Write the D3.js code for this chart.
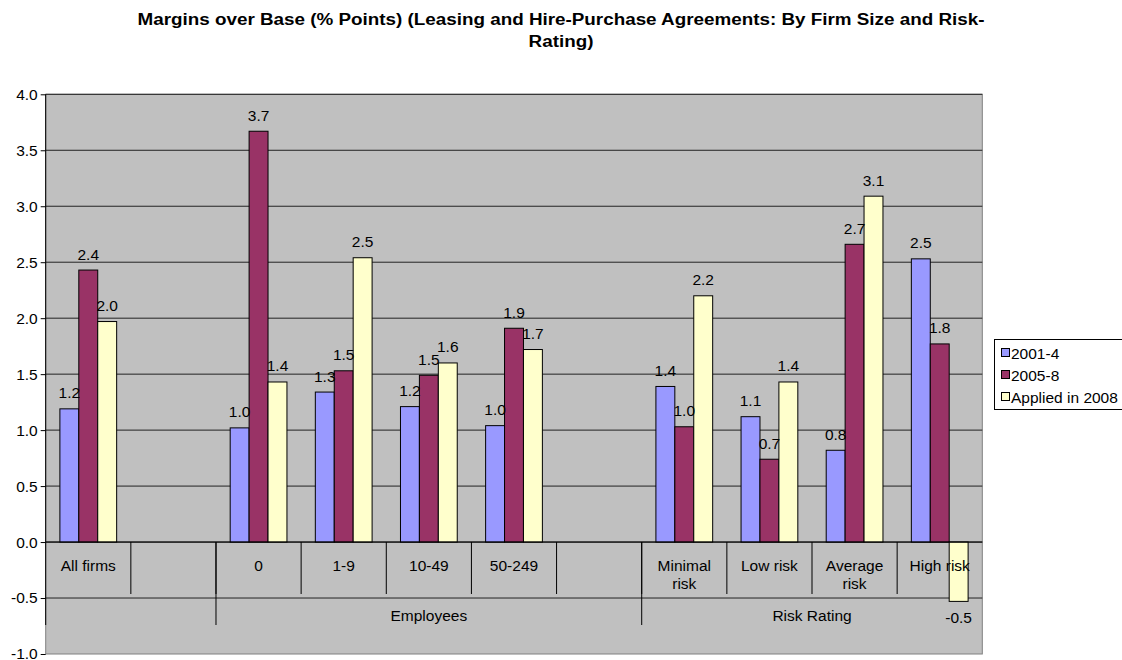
<!DOCTYPE html>
<html><head><meta charset="utf-8">
<script src="https://cdn.jsdelivr.net/npm/d3@7"></script>
<style>body{margin:0;background:#fff;} text{font-family:"Liberation Sans",Arial,sans-serif;}</style>
</head><body>
<svg id="c" width="1122" height="660"></svg>
<script>
const categories = ["All firms", "", "0", "1-9", "10-49", "50-249", "", "Minimal risk", "Low risk", "Average risk", "High risk"];
const categoryLines = [["All firms"], [], ["0"], ["1-9"], ["10-49"], ["50-249"], [], ["Minimal", "risk"], ["Low risk"], ["Average", "risk"], ["High risk"]];
const groups = [{name: "", from: 0, to: 1}, {name: "Employees", from: 2, to: 6}, {name: "Risk Rating", from: 7, to: 10}];
const seriesNames = ["2001-4", "2005-8", "Applied in 2008"];
const s2001 = [1.19, null, 1.02, 1.34, 1.21, 1.04, null, 1.39, 1.12, 0.82, 2.53];
const s2005 = [2.43, null, 3.67, 1.53, 1.49, 1.91, null, 1.03, 0.74, 2.66, 1.77];
const s2008 = [1.97, null, 1.43, 2.54, 1.60, 1.72, null, 2.20, 1.43, 3.09, -0.53];
const yTicks = [-1.0, -0.5, 0.0, 0.5, 1.0, 1.5, 2.0, 2.5, 3.0, 3.5, 4.0];
const colors = ["#9999FF", "#993366", "#FFFFCC"];
const title = ["Margins over Base (% Points) (Leasing and Hire-Purchase Agreements: By Firm Size and Risk-", "Rating)"];

const FS = "15.5px";
const fmt = v => d3.format(".1f")(v).replace("\u2212", "-");
const svg = d3.select("#c");
const L = 45.7, R = 982.3, T = 94.3, B = 654;
const x = d3.scaleBand().domain(d3.range(categories.length)).range([L, R]).padding(0);
const y = d3.scaleLinear().domain([-1, 4]).range([B, T]);
const bw = x.bandwidth() / 4.5;
const xs = d3.scaleBand().domain([0, 1, 2]).range([0, bw * 3]).padding(0);
const off = (x.bandwidth() - bw * 3) / 2;

// title
const tt = svg.append("g");
const t1 = tt.append("text").attr("x", 561).attr("y", 25).attr("text-anchor", "middle")
  .style("font-weight", "bold").style("font-size", "16px").text(title[0]);
const w1 = t1.node().getComputedTextLength();
const sc = 847 / w1;
t1.attr("textLength", 847).attr("lengthAdjust", "spacingAndGlyphs");
const t2 = tt.append("text").attr("x", 561).attr("y", 47).attr("text-anchor", "middle")
  .style("font-weight", "bold").style("font-size", "16px").text(title[1]);
const w2 = t2.node().getComputedTextLength();
t2.attr("textLength", w2 * sc).attr("lengthAdjust", "spacingAndGlyphs");

// plot background
svg.append("rect").attr("x", L).attr("y", T).attr("width", R - L).attr("height", B - T)
  .attr("fill", "#C0C0C0").attr("stroke", "#808080").attr("stroke-width", 1);

// gridlines
svg.append("g").selectAll("line").data(yTicks.filter(d => d !== -1)).join("line")
  .attr("x1", L).attr("x2", R).attr("y1", d => y(d)).attr("y2", d => y(d))
  .attr("stroke", "#222").attr("stroke-width", 1);

// y axis
const ya = svg.append("g").attr("transform", `translate(${L},0)`)
  .call(d3.axisLeft(y).tickValues(yTicks).tickFormat(fmt).tickSize(5).tickPadding(3));
ya.select(".domain").remove();
ya.selectAll(".tick line").attr("stroke", "#000");
ya.selectAll("text").style("font-size", FS).style("font-family", "'Liberation Sans',Arial,sans-serif").attr("fill", "#000");
svg.append("line").attr("x1", L).attr("x2", L).attr("y1", T).attr("y2", 625).attr("stroke", "#000");

// bars
const series = [s2001, s2005, s2008];
const barG = svg.append("g");
series.forEach((vals, si) => {
  const data = vals.map((v, i) => ({v, i})).filter(d => d.v !== null);
  barG.selectAll(null).data(data).join("rect")
    .attr("x", d => x(d.i) + off + xs(si))
    .attr("width", bw)
    .attr("y", d => y(Math.max(0, d.v)))
    .attr("height", d => Math.abs(y(d.v) - y(0)))
    .attr("fill", colors[si]).attr("stroke", "#000").attr("stroke-width", 1);
});

// zero axis line
svg.append("line").attr("x1", L).attr("x2", R).attr("y1", y(0)).attr("y2", y(0)).attr("stroke", "#000");

// category ticks
svg.append("g").selectAll("line").data(d3.range(1, categories.length)).join("line")
  .attr("x1", d => x(d)).attr("x2", d => x(d)).attr("y1", y(0)).attr("y2", 594)
  .attr("stroke", "#000");
// group ticks
svg.append("g").selectAll("line").data(groups.slice(1).map(g => g.from)).join("line")
  .attr("x1", d => x(d)).attr("x2", d => x(d)).attr("y1", y(0)).attr("y2", 625)
  .attr("stroke", "#000");

// category labels
const cl = svg.append("g");
categoryLines.forEach((lines, i) => {
  cl.append("text").attr("text-anchor", "middle").style("font-size", FS)
    .attr("x", x(i) + x.bandwidth() / 2).attr("y", 570.5)
    .selectAll("tspan").data(lines).join("tspan")
    .attr("x", x(i) + x.bandwidth() / 2).attr("dy", (d, k) => k ? 18 : 0).text(d => d);
});
// group labels
svg.append("g").selectAll("text").data(groups.filter(g => g.name)).join("text")
  .attr("text-anchor", "middle").style("font-size", FS)
  .attr("x", g => (x(g.from) + x(g.to) + x.bandwidth()) / 2).attr("y", 620.5)
  .text(g => g.name);

// data labels
const lg = svg.append("g");
series.forEach((vals, si) => {
  const data = vals.map((v, i) => ({v, i})).filter(d => d.v !== null);
  lg.selectAll(null).data(data).join("text")
    .attr("text-anchor", "middle").style("font-size", FS)
    .attr("x", d => x(d.i) + off + xs(si) + bw / 2)
    .attr("y", d => d.v >= 0 ? y(d.v) - 10.5 : y(d.v) + 21.5)
    .text(d => fmt(d.v));
});

// legend
const leg = svg.append("g");
leg.append("rect").attr("x", 994.5).attr("y", 339.5).attr("width", 140).attr("height", 70)
  .attr("fill", "#fff").attr("stroke", "#000");
seriesNames.forEach((n, i) => {
  const cy = 353 + i * 22;
  leg.append("rect").attr("x", 1001.5).attr("y", cy - 4.5).attr("width", 8).attr("height", 8)
    .attr("fill", colors[i]).attr("stroke", "#000");
  leg.append("text").attr("x", 1011).attr("y", cy + 5.5).style("font-size", FS).text(n);
});
</script>
</body></html>
